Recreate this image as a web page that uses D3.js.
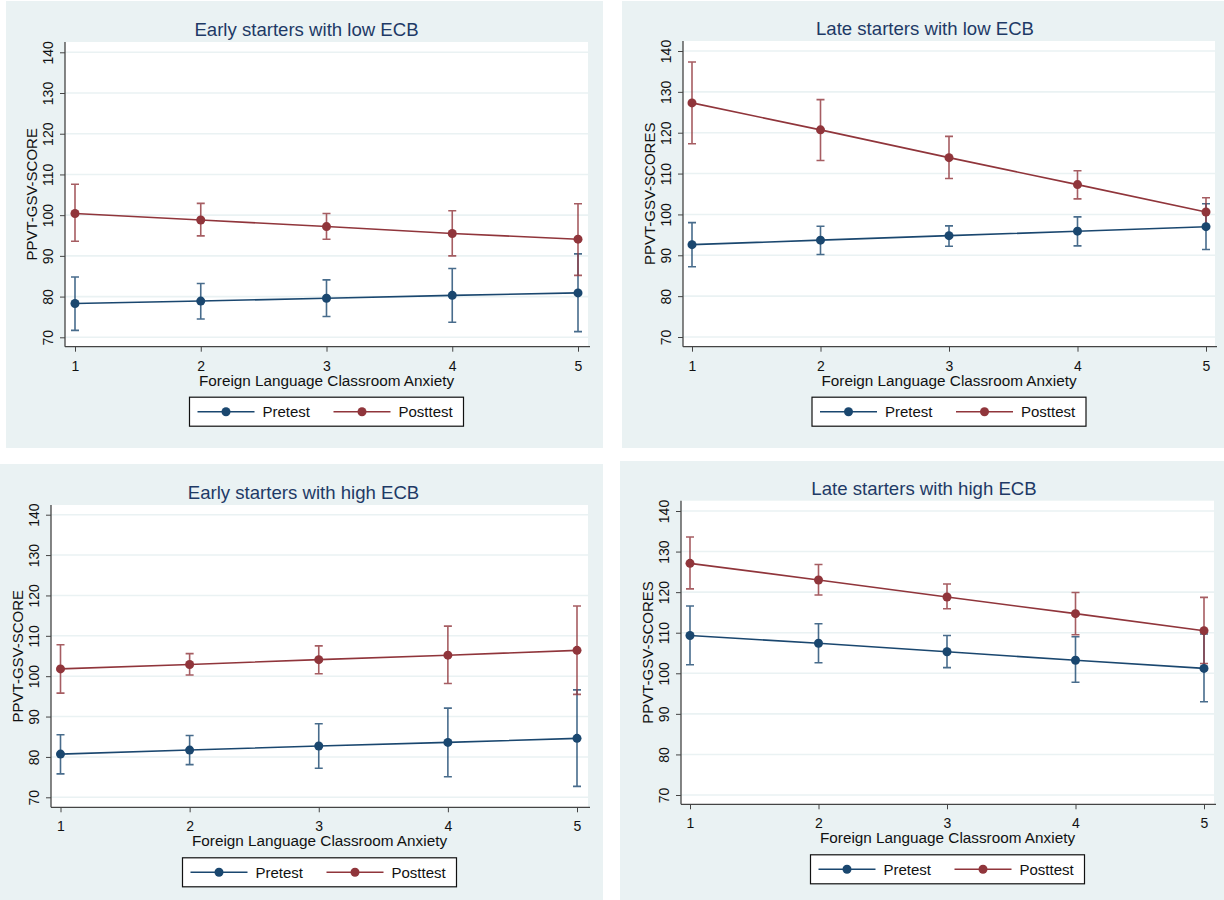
<!DOCTYPE html>
<html>
<head>
<meta charset="utf-8">
<script src="https://cdn.jsdelivr.net/npm/d3@7"></script>
<style>
  html, body { margin: 0; padding: 0; background: #ffffff; }
  svg { display: block; font-family: "Liberation Sans", Arial, Helvetica, sans-serif; }
</style>
</head>
<body>
<svg id="chart" width="1224" height="900"></svg>
<script>
// Categories and tick labels
const anxiety = [1, 2, 3, 4, 5];
const yTicks = [70, 80, 90, 100, 110, 120, 130, 140];
const panelTitles = [
  "Early starters with low ECB",
  "Late starters with low ECB",
  "Early starters with high ECB",
  "Late starters with high ECB"
];
const yTitles = ["PPVT-GSV-SCORE", "PPVT-GSV-SCORES", "PPVT-GSV-SCORE", "PPVT-GSV-SCORES"];
const xTitle = "Foreign Language Classroom Anxiety";
const seriesNames = ["Pretest", "Posttest"];

// Early starters, low ECB
const earlyLowPre   = [78.3, 78.9, 79.6, 80.3, 80.9];
const earlyLowPreLo = [71.7, 74.5, 75.1, 73.7, 71.4];
const earlyLowPreHi = [84.8, 83.2, 84.1, 86.9, 90.5];
const earlyLowPost   = [100.4, 98.8, 97.2, 95.5, 94.1];
const earlyLowPostLo = [93.6, 94.9, 94.1, 90.0, 85.2];
const earlyLowPostHi = [107.6, 102.9, 100.4, 101.1, 102.8];

// Late starters, low ECB
const lateLowPre   = [92.6, 93.7, 94.8, 95.9, 97.0];
const lateLowPreLo = [87.2, 90.2, 92.2, 92.3, 91.4];
const lateLowPreHi = [98.0, 97.1, 97.2, 99.4, 102.6];
const lateLowPost   = [127.3, 120.7, 113.9, 107.3, 100.6];
const lateLowPostLo = [117.3, 113.2, 108.8, 103.8, 97.1];
const lateLowPostHi = [137.3, 128.1, 119.1, 110.7, 104.1];

// Early starters, high ECB
const earlyHighPre   = [80.7, 81.7, 82.7, 83.6, 84.6];
const earlyHighPreLo = [75.8, 78.1, 77.2, 75.1, 72.7];
const earlyHighPreHi = [85.5, 85.3, 88.2, 92.1, 96.6];
const earlyHighPost   = [101.8, 102.9, 104.1, 105.2, 106.4];
const earlyHighPostLo = [95.8, 100.3, 100.6, 98.2, 95.5];
const earlyHighPostHi = [107.8, 105.6, 107.5, 112.4, 117.4];

// Late starters, high ECB
const lateHighPre   = [109.3, 107.4, 105.3, 103.2, 101.2];
const lateHighPreLo = [102.1, 102.6, 101.4, 97.8, 93.0];
const lateHighPreHi = [116.6, 112.2, 109.3, 109.0, 109.7];
const lateHighPost   = [127.1, 123.0, 118.8, 114.7, 110.5];
const lateHighPostLo = [120.8, 119.3, 115.9, 109.5, 102.4];
const lateHighPostHi = [133.6, 126.8, 122.0, 119.9, 118.7];

const panelData = [
  { pre: [earlyLowPre, earlyLowPreLo, earlyLowPreHi],   post: [earlyLowPost, earlyLowPostLo, earlyLowPostHi] },
  { pre: [lateLowPre, lateLowPreLo, lateLowPreHi],      post: [lateLowPost, lateLowPostLo, lateLowPostHi] },
  { pre: [earlyHighPre, earlyHighPreLo, earlyHighPreHi], post: [earlyHighPost, earlyHighPostLo, earlyHighPostHi] },
  { pre: [lateHighPre, lateHighPreLo, lateHighPreHi],   post: [lateHighPost, lateHighPostLo, lateHighPostHi] }
];

// Panel geometry: background, plot region, and where the first/last ticks sit
const layout = [
  { bg: [6, 1, 603, 448],     plot: [65, 42, 588, 346.7],    x1: 75,  x5: 578,  y70: 337.3, y140: 52.3 },
  { bg: [622, 1, 1224, 448],  plot: [683, 41, 1215, 346.7],  x1: 692, x5: 1206, y70: 337,   y140: 51 },
  { bg: [0, 464, 603, 900],   plot: [51, 505, 588, 807.3],   x1: 60.5, x5: 577, y70: 797.3, y140: 514.7 },
  { bg: [620, 461, 1224, 900], plot: [681, 500.7, 1214, 804.3], x1: 690, x5: 1204, y70: 795, y140: 511 }
];

const colors = { pre: "#1a476f", post: "#90353b" };
const bgColor = "#eaf2f3";
const titleColor = "#1e3a66";

const svg = d3.select("#chart");

panelData.forEach((pd, i) => {
  const L = layout[i];
  const [pl, pt, pr, pb] = L.plot;
  const g = svg.append("g");

  // panel background
  g.append("rect")
    .attr("x", L.bg[0]).attr("y", L.bg[1])
    .attr("width", L.bg[2] - L.bg[0]).attr("height", L.bg[3] - L.bg[1])
    .attr("fill", bgColor);

  // plot region
  g.append("rect")
    .attr("x", pl).attr("y", pt)
    .attr("width", pr - pl).attr("height", pb - pt)
    .attr("fill", "#ffffff");

  const x = d3.scaleLinear().domain([1, 5]).range([L.x1, L.x5]);
  const y = d3.scaleLinear().domain([70, 140]).range([L.y70, L.y140]);

  // horizontal grid lines
  g.append("g").selectAll("line").data(yTicks).join("line")
    .attr("x1", pl).attr("x2", pr)
    .attr("y1", d => y(d)).attr("y2", d => y(d))
    .attr("stroke", bgColor).attr("stroke-width", 1.6);

  // y axis
  const yAxis = g.append("g")
    .attr("transform", `translate(${pl},0)`)
    .call(d3.axisLeft(y).tickValues(yTicks).tickSize(5).tickPadding(4).tickFormat(d3.format("d")));
  yAxis.select(".domain").attr("d", `M0,${pt}V${pb}`).attr("stroke", "#444").attr("stroke-width", 1.3);
  yAxis.selectAll(".tick line").attr("stroke", "#444");
  yAxis.selectAll(".tick text")
    .attr("font-size", 14).attr("fill", "#111")
    .attr("x", null).attr("dy", null)
    .attr("text-anchor", "middle")
    .attr("dominant-baseline", "central")
    .attr("transform", "translate(-17,0) rotate(-90)");

  // x axis
  const xAxis = g.append("g")
    .attr("transform", `translate(0,${pb})`)
    .call(d3.axisBottom(x).tickValues(anxiety).tickSize(5).tickPadding(5).tickFormat(d3.format("d")));
  xAxis.select(".domain").attr("d", `M${pl},0H${pr + 2}`).attr("stroke", "#444").attr("stroke-width", 1.3);
  xAxis.selectAll(".tick line").attr("stroke", "#444");
  xAxis.selectAll(".tick text").attr("font-size", 14).attr("fill", "#111")
    .attr("y", 19).attr("dy", null).attr("dominant-baseline", "central");

  const cx = (pl + pr) / 2;
  const bgCx = (L.bg[0] + L.bg[2]) / 2;

  // titles: panel title centred on the panel, axis titles on the plot region
  g.append("text").attr("x", bgCx + 2).attr("y", pt - 12.5)
    .attr("text-anchor", "middle").attr("dominant-baseline", "central")
    .attr("font-size", 18.6).attr("fill", titleColor).text(panelTitles[i]);

  g.append("text").attr("x", cx).attr("y", pb + 33.5)
    .attr("text-anchor", "middle").attr("dominant-baseline", "central")
    .attr("font-size", 15.3).attr("fill", "#111").text(xTitle);

  g.append("text")
    .attr("transform", `translate(${pl - 34},${(pt + pb) / 2}) rotate(-90)`)
    .attr("text-anchor", "middle").attr("dominant-baseline", "central")
    .attr("font-size", 15).attr("fill", "#111").text(yTitles[i]);

  // series: confidence intervals, connecting lines, markers
  const series = [
    { key: "pre", vals: pd.pre },
    { key: "post", vals: pd.post }
  ];
  const capHalf = 4;

  series.forEach(s => {
    const [m, lo, hi] = s.vals;
    const rows = anxiety.map((a, k) => ({ a, m: m[k], lo: lo[k], hi: hi[k] }));
    const eg = g.append("g").attr("stroke", colors[s.key]).attr("stroke-width", 1.6)
      .attr("stroke-opacity", 0.8).attr("fill", "none");
    eg.selectAll("path").data(rows).join("path")
      .attr("d", d => `M${x(d.a) - capHalf},${y(d.hi)}H${x(d.a) + capHalf}M${x(d.a)},${y(d.hi)}V${y(d.lo)}M${x(d.a) - capHalf},${y(d.lo)}H${x(d.a) + capHalf}`);
  });

  series.forEach(s => {
    const [m] = s.vals;
    const rows = anxiety.map((a, k) => ({ a, m: m[k] }));
    g.append("path").datum(rows)
      .attr("fill", "none").attr("stroke", colors[s.key]).attr("stroke-width", 1.6)
      .attr("d", d3.line().x(d => x(d.a)).y(d => y(d.m)));
    g.append("g").selectAll("circle").data(rows).join("circle")
      .attr("cx", d => x(d.a)).attr("cy", d => y(d.m)).attr("r", 4.5)
      .attr("fill", colors[s.key]);
  });

  // legend
  const lw = 274, lh = 29;
  const lx = cx - lw / 2, ly = pb + 50.5;
  const lg = g.append("g").attr("transform", `translate(${lx},${ly})`);
  lg.append("rect").attr("width", lw).attr("height", lh)
    .attr("fill", "#ffffff").attr("stroke", "#111").attr("stroke-width", 1.2);
  const items = [
    { name: seriesNames[0], color: colors.pre, x0: 8 },
    { name: seriesNames[1], color: colors.post, x0: 144 }
  ];
  items.forEach(it => {
    lg.append("line").attr("x1", it.x0).attr("x2", it.x0 + 57)
      .attr("y1", lh / 2).attr("y2", lh / 2)
      .attr("stroke", it.color).attr("stroke-width", 1.6);
    lg.append("circle").attr("cx", it.x0 + 28.5).attr("cy", lh / 2).attr("r", 4.5).attr("fill", it.color);
    lg.append("text").attr("x", it.x0 + 65).attr("y", lh / 2)
      .attr("dominant-baseline", "central").attr("font-size", 15).attr("fill", "#111")
      .text(it.name);
  });
});
</script>
</body>
</html>
